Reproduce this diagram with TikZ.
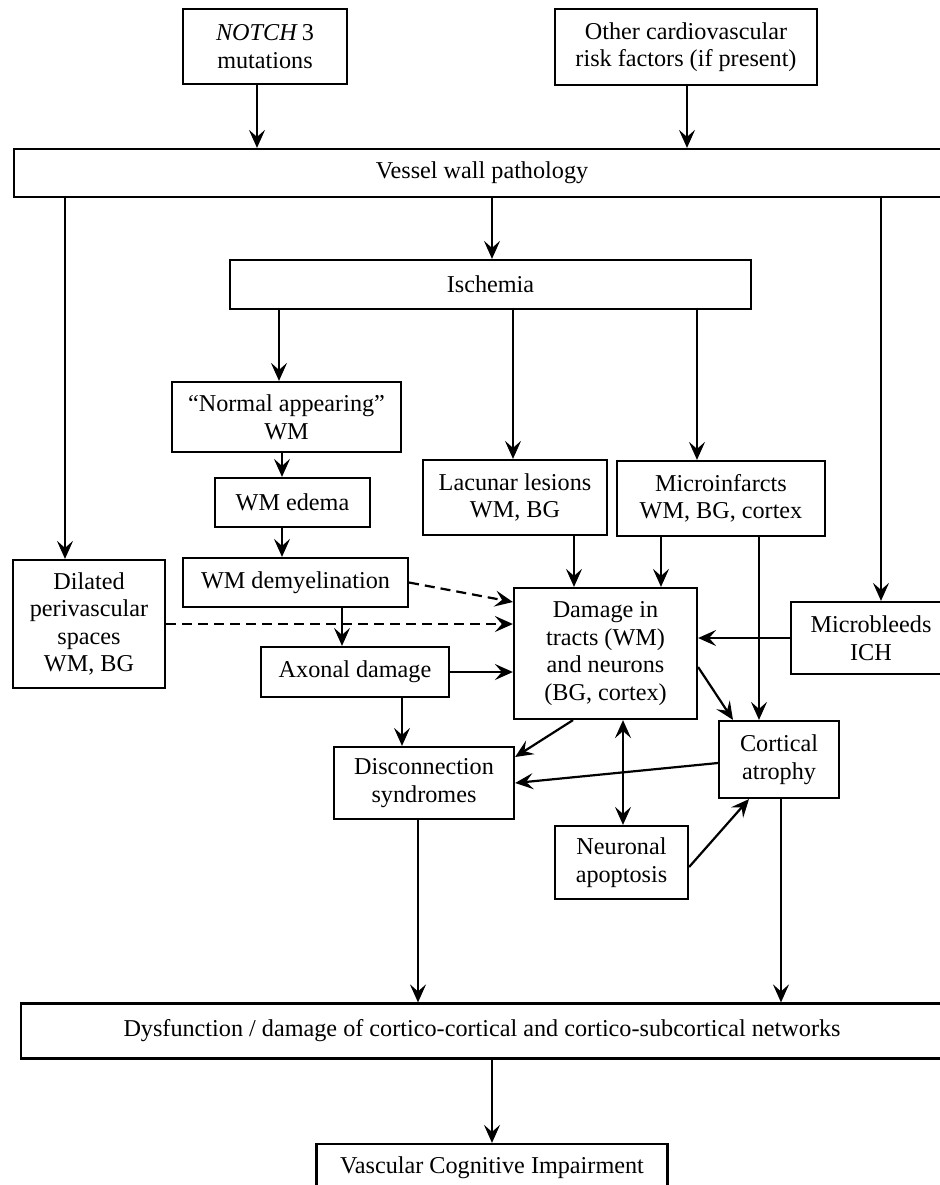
\documentclass[tikz,border=0pt]{standalone}
\usepackage{fontspec}
\setmainfont{Liberation Serif}
\usetikzlibrary{positioning,calc,arrows.meta}

\newlength\pxu
\setlength\pxu{0.5pt}

\tikzset{
    box/.style={draw, line width=1.1pt, align=center, inner sep=2pt,
        font=\fontsize{12.1}{13.8}\selectfont},
    sz/.style 2 args={minimum width=#1*\pxu, minimum height=#2*\pxu},
    arr/.style={-{Stealth[length=9pt,width=8pt,inset=3.5pt]}, line width=1.1pt},
    dblarr/.style={{Stealth[length=9pt,width=8pt,inset=3.5pt]}-{Stealth[length=9pt,width=8pt,inset=3.5pt]}, line width=1.1pt},
    dasharr/.style={arr, dash pattern=on 5pt off 3pt},
}

\begin{document}
\begin{tikzpicture}[x=0.5pt, y=-0.5pt]
    \useasboundingbox (0,0) rectangle (940,1185);
    \clip (0,0) rectangle (940,1185);

    % Causes
    \node [box, sz={164}{75}] (notch) at (265,46.5) {\textit{NOTCH}\,3\\mutations};
    \node [box, sz={262}{76}] (other) at (686,47) {Other cardiovascular\\risk factors (if present)};
    \node [box, sz={936}{48}] (vessel) at (482,173) {Vessel wall pathology};
    \node [box, sz={521}{49}] (ischemia) at (490.5,284.5) {Ischemia};

    % Lesions
    \node [box, sz={229}{70}] (normal) at (286.5,417) {“Normal appearing”\\WM};
    \node [box, sz={155}{49}] (edema) at (292.5,502.5) {WM edema};
    \node [box, sz={184}{75}] (lacunar) at (515,497.5) {Lacunar lesions\\WM, BG};
    \node [box, sz={208}{75}] (micro) at (721,498.5) {Microinfarcts\\WM, BG, cortex};
    \node [box, sz={152}{128}] (dilated) at (89,624) {Dilated\\perivascular\\spaces\\WM, BG};
    \node [box, sz={225}{49}] (demyel) at (295.5,582.5) {WM demyelination};
    \node [box, sz={183}{131}] (damage) at (605.5,653.5) {Damage in\\tracts (WM)\\and neurons\\(BG, cortex)};
    \node [box, sz={160}{72}] (bleeds) at (871,638) {Microbleeds\\ICH};
    \node [box, sz={188}{50}] (axonal) at (355,672) {Axonal damage};

    % Consequences
    \node [box, sz={120}{77}] (cortical) at (779,759.5) {Cortical\\atrophy};
    \node [box, sz={180}{72}] (discon) at (424,783) {Disconnection\\syndromes};
    \node [box, sz={133}{73}] (neuronal) at (621.5,862.5) {Neuronal\\apoptosis};
    \node [box, sz={922}{55}] (dysf) at (482,1031) {Dysfunction / damage of cortico-cortical and cortico-subcortical networks};
    \node [box, sz={351}{48}] (vci) at (492,1168) {Vascular Cognitive Impairment};

    % Top arrows
    \draw [arr] (notch.south -| 257,0) -- (vessel.north -| 257,0);
    \draw [arr] (other.south -| 687,0) -- (vessel.north -| 687,0);
    \draw [arr] (vessel.south -| 65,0) -- (dilated.north -| 65,0);
    \draw [arr] (vessel.south -| 492,0) -- (ischemia.north -| 492,0);
    \draw [arr] (vessel.south -| 881,0) -- (bleeds.north -| 881,0);
    \draw [arr] (ischemia.south -| 279,0) -- (normal.north -| 279,0);
    \draw [arr] (ischemia.south -| 513,0) -- (lacunar.north -| 513,0);
    \draw [arr] (ischemia.south -| 697,0) -- (micro.north -| 697,0);

    % WM chain
    \draw [arr] (normal.south -| 282,0) -- (edema.north -| 282,0);
    \draw [arr] (edema.south -| 282,0) -- (demyel.north -| 282,0);
    \draw [arr] (demyel.south -| 342,0) -- (axonal.north -| 342,0);
    \draw [dasharr] (demyel.east) -- (damage.west |- 0,602);
    \draw [dasharr] (dilated.east) -- (damage.west |- dilated.east);
    \draw [arr] (axonal.east) -- (damage.west |- axonal.east);

    % Into damage
    \draw [arr] (lacunar.south -| 574,0) -- (damage.north -| 574,0);
    \draw [arr] (micro.south -| 661,0) -- (damage.north -| 661,0);
    \draw [arr] (micro.south -| 759,0) -- (cortical.north -| 759,0);
    \draw [arr] (bleeds.west) -- (damage.east |- bleeds.west);

    % Out of damage
    \draw [arr] (damage.east |- 0,667) -- (cortical.north -| 733,0);
    \draw [arr] (damage.south -| 573,0) -- (discon.east |- 0,757);
    \draw [arr] (axonal.south -| 402,0) -- (discon.north -| 402,0);
    \draw [arr] (cortical.west |- 0,763) -- (discon.east |- 0,783);
    \draw [dblarr] (damage.south -| 623,0) -- (neuronal.north -| 623,0);
    \draw [arr] (neuronal.east |- 0,867) -- (cortical.south -| 749,0);

    % Bottom
    \draw [arr] (discon.south -| 418,0) -- (dysf.north -| 418,0);
    \draw [arr] (cortical.south -| 781,0) -- (dysf.north -| 781,0);
    \draw [arr] (dysf.south -| 492,0) -- (vci.north -| 492,0);
\end{tikzpicture}
\end{document}
